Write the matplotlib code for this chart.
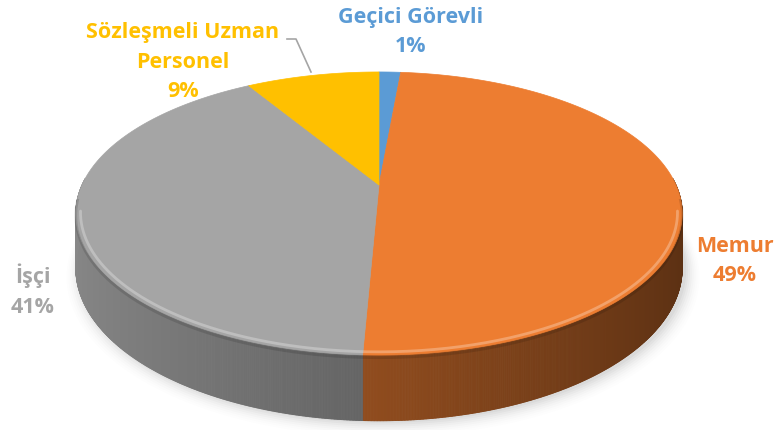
import numpy as np
import matplotlib
matplotlib.use("Agg")
import matplotlib.pyplot as plt
from matplotlib.patches import Polygon
from matplotlib.collections import PolyCollection
from matplotlib.colors import to_rgb

plt.rcParams['font.family'] = ['Open Sans', 'DejaVu Sans']

categories = ["Geçici Görevli", "Memur", "İşçi", "Sözleşmeli Uzman\nPersonel"]
values = [1.4, 49.3, 40.7, 8.6]
pct_labels = ["1%", "49%", "41%", "9%"]
colors = ["#5B9BD5", "#ED7D31", "#A5A5A5", "#FFC000"]
label_pos = [(411, 32), (735, 261), (33, 291), (183, 62)]

fig = plt.figure(figsize=(7.8, 4.3), dpi=100)
ax = fig.add_axes([0, 0, 1, 1])
ax.set_xlim(0, 780)
ax.set_ylim(430, 0)
ax.axis('off')

# perspective projection of the pie disk
cx0, cy0, A, B, k, D0 = 379, 185, 297, 135.8, 0.2014, 52.5

def proj(theta, drop=0.0, r=1.0):
    u = r * np.cos(theta)
    v = r * np.sin(theta)
    w = 1 + k * v
    return cx0 + A * u / w, cy0 - B * v / w + drop * D0 / w

fracs = np.array(values) / np.sum(values)
starts = np.pi / 2 - 2 * np.pi * np.concatenate([[0], np.cumsum(fracs)[:-1]])
ends = starts - 2 * np.pi * fracs

# soft shadow
tt = np.linspace(0, 2 * np.pi, 400)
for i, a in enumerate(np.linspace(0.03, 0.006, 8)):
    xs, ys = proj(tt, drop=1.0, r=1.0 + 0.006 * i)
    ax.add_patch(Polygon(np.column_stack([xs + 4, ys + 2 + i * 0.6]), closed=True,
                         facecolor='black', alpha=a, edgecolor='none', zorder=1))

# side faces
polys, pcolors = [], []
for s, e, c in zip(starts, ends, colors):
    base = np.array(to_rgb(c))
    ts = np.linspace(s, e, max(int(abs(s - e) / 0.004), 2))
    for t1, t2 in zip(ts[:-1], ts[1:]):
        tm = 0.5 * (t1 + t2)
        if np.sin(tm) >= 0.05:
            continue
        m = 0.6 - 0.22 * np.cos(tm)
        x1, y1 = proj(t1)
        x2, y2 = proj(t2)
        x3, y3 = proj(t2, drop=1.0)
        x4, y4 = proj(t1, drop=1.0)
        polys.append([(x1, y1), (x2, y2), (x3, y3), (x4, y4)])
        pcolors.append(np.clip(base * m, 0, 1))
pc = PolyCollection(polys, facecolors=pcolors, edgecolors=pcolors, linewidths=0.6, zorder=2)
ax.add_collection(pc)

# top faces
for s, e, c in zip(starts, ends, colors):
    ts = np.linspace(s, e, 300)
    xs, ys = proj(ts)
    verts = [proj(0.0, r=0.0)] + list(zip(xs, ys))
    ax.add_patch(Polygon(verts, closed=True, facecolor=c, edgecolor=c, linewidth=0.5, zorder=3))

# bevel highlight along front rim
tb = np.linspace(np.pi * 1.06, np.pi * 1.94, 300)
bx, by = proj(tb, r=0.985)
ax.plot(bx, by, color='white', alpha=0.28, lw=2.0, zorder=4, solid_capstyle='round')
tb2 = np.linspace(np.pi * 1.03, np.pi * 1.97, 300)
bx2, by2 = proj(tb2, drop=0.04)
ax.plot(bx2, by2, color='black', alpha=0.12, lw=2.0, zorder=4)

# labels
for cat, pl, c, (x, y) in zip(categories, pct_labels, colors, label_pos):
    ax.text(x, y, cat + "\n" + pl, color=c, fontsize=15.5, fontweight='bold',
            ha='center', va='center', linespacing=1.55, zorder=6)

# leader line for Sözleşmeli
ax.plot([287, 296, 311], [39, 39, 72], color='#A5A5A5', lw=1.2, zorder=5)

fig.savefig("out.png", dpi=100)
